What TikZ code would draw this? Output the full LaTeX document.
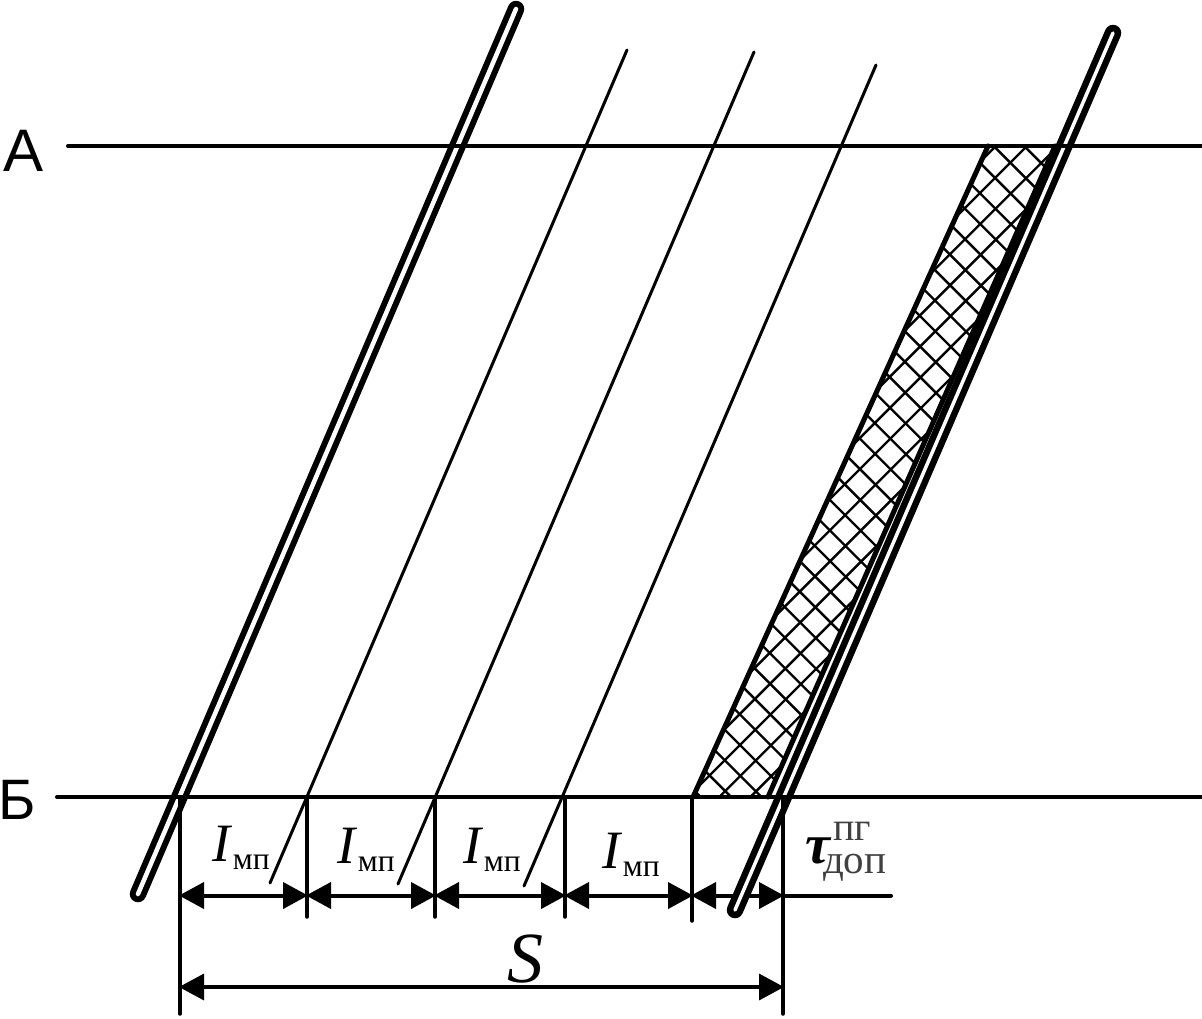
\documentclass[tikz,border=0pt]{standalone}
\usepackage{fontspec}
\setmainfont{Liberation Serif}
\newfontfamily\sansf{Liberation Sans}
\usetikzlibrary{arrows.meta}
\tikzset{
  x=1pt,y=-1pt,
  train/.style={draw=black,line width=6pt,double=white,double distance=4.5pt,line cap=round},
  trainr/.style={draw=black,line width=6.5pt,double=white,double distance=3.5pt,line cap=round},
  thin line/.style={draw=black,line width=3pt,line cap=round},
  hor line/.style={draw=black,line width=4pt,line cap=round},
  vert line/.style={draw=black,line width=3.5pt,line cap=round},
  edge line/.style={draw=black,line width=5pt,line cap=round},
  hatch line/.style={draw=black,line width=2.4pt},
  dim line/.style={draw=black,line width=4pt,{Triangle[length=25pt,width=26pt]}-{Triangle[length=25pt,width=26pt]},shorten <=-1pt,shorten >=-1pt},
  label/.style={inner sep=0pt,outer sep=0pt,anchor=base west},
  station/.style={inner sep=0pt,outer sep=0pt,anchor=base,font={\sansf\fontsize{60}{60}\selectfont}},
  imp/.style={label,font={\fontsize{54}{54}\selectfont}}
}
\newcommand{\impt}{{\itshape I}\kern3pt\raisebox{-8pt}{\fontsize{31.5}{31.5}\selectfont мп}}
\begin{document}
\begin{tikzpicture}
\useasboundingbox (0,0) rectangle (1202,1018);
\fill[white] (0,0) rectangle (1202,1018);
% key points
\coordinate (AL) at (68,146); \coordinate (AR) at (1202,146);
\coordinate (BL) at (57,797); \coordinate (BR) at (1202,797);
\coordinate (T1a) at (138,894); \coordinate (T1b) at (516,9);
\coordinate (T2a) at (735,910); \coordinate (T2b) at (1113,33);
\coordinate (L1a) at (270,883); \coordinate (L1b) at (627,50);
\coordinate (L2a) at (398,884); \coordinate (L2b) at (754,52);
\coordinate (L3a) at (524,886); \coordinate (L3b) at (876,65);
\coordinate (P1) at (693,797); \coordinate (P2) at (988,146);
\coordinate (P3) at (1055,146); \coordinate (P4) at (768,797);
\coordinate (V0t) at (180,797); \coordinate (V0b) at (180,1014);
\coordinate (V1t) at (307,797); \coordinate (V1b) at (307,917);
\coordinate (V2t) at (435,797); \coordinate (V2b) at (435,917);
\coordinate (V3t) at (565,797); \coordinate (V3b) at (565,917);
\coordinate (V4t) at (692,797); \coordinate (V4b) at (692,921);
\coordinate (V5t) at (783,797); \coordinate (V5b) at (783,1014);
\coordinate (D0) at (180,895.5); \coordinate (D1) at (307,895.5);
\coordinate (D2) at (435,895.5); \coordinate (D3) at (565,895.5);
\coordinate (D4) at (692,895.5); \coordinate (D5) at (783,895.5);
\coordinate (D6) at (891,895.5);
\coordinate (S0) at (180,987); \coordinate (S1) at (783,987);
% hatching
\begin{scope}
\clip (P1) -- (P2) -- (P3) -- (P4) -- cycle;
\foreach \k in {-5,...,32}{
  \pgfmathsetmacro{\c}{-5+30.45*\k}
  \draw[hatch line] (\c+100,100) -- (\c+850,850);
}
\foreach \k in {-4,...,14}{
  \pgfmathsetmacro{\d}{1485-31.2*\k}
  \draw[hatch line] (\d-100,100) -- (\d-850,850);
}
\end{scope}
\draw[edge line] (P1) -- (P2);
\draw[edge line] (P3) -- (P4);
% single lines
\draw[thin line] (L1a) -- (L1b);
\draw[thin line] (L2a) -- (L2b);
\draw[thin line] (L3a) -- (L3b);
% dimension lines
\draw[dim line] (D0) -- (D1);
\draw[dim line] (D1) -- (D2);
\draw[dim line] (D2) -- (D3);
\draw[dim line] (D3) -- (D4);
\draw[dim line] (D4) -- (D5);
\draw[hor line] (D5) -- (D6);
\draw[dim line,line width=3.5pt] (S0) -- (S1);
% double lines
\draw[train] (T1a) -- (T1b);
\draw[trainr] (T2a) -- (T2b);
% verticals
\draw[vert line] (V0t) -- (V0b);
\draw[vert line] (V1t) -- (V1b);
\draw[vert line] (V2t) -- (V2b);
\draw[vert line] (V3t) -- (V3b);
\draw[vert line] (V4t) -- (V4b);
\draw[vert line] (V5t) -- (V5b);
% horizontals
\draw[hor line] (AL) -- (AR);
\draw[hor line] (BL) -- (BR);
% labels
\node[station] (lA) at (24,171) {А};
\node[station,font={\sansf\fontsize{57}{57}\selectfont}] (lB) at (17,819) {Б};
\node[imp] (i1) at (212,861) {\impt};
\node[imp] (i2) at (337,863) {\impt};
\node[imp] (i3) at (463,863) {\impt};
\node[imp] (i4) at (602,868) {\impt};
\node[inner sep=0pt,anchor=base] (s) at (525,982) {\fontsize{72}{72}\selectfont\itshape S};
\node[label] (tau) at (805,863) {\rlap{\kern28pt\raisebox{23pt}{\color{black!75}\fontsize{40}{40}\selectfont пг}}\rlap{\kern18pt\raisebox{-10pt}{\color{black!75}\fontsize{41}{41}\selectfont доп}}\fontsize{56}{56}\selectfont\bfseries\itshape τ};
\end{tikzpicture}
\end{document}
